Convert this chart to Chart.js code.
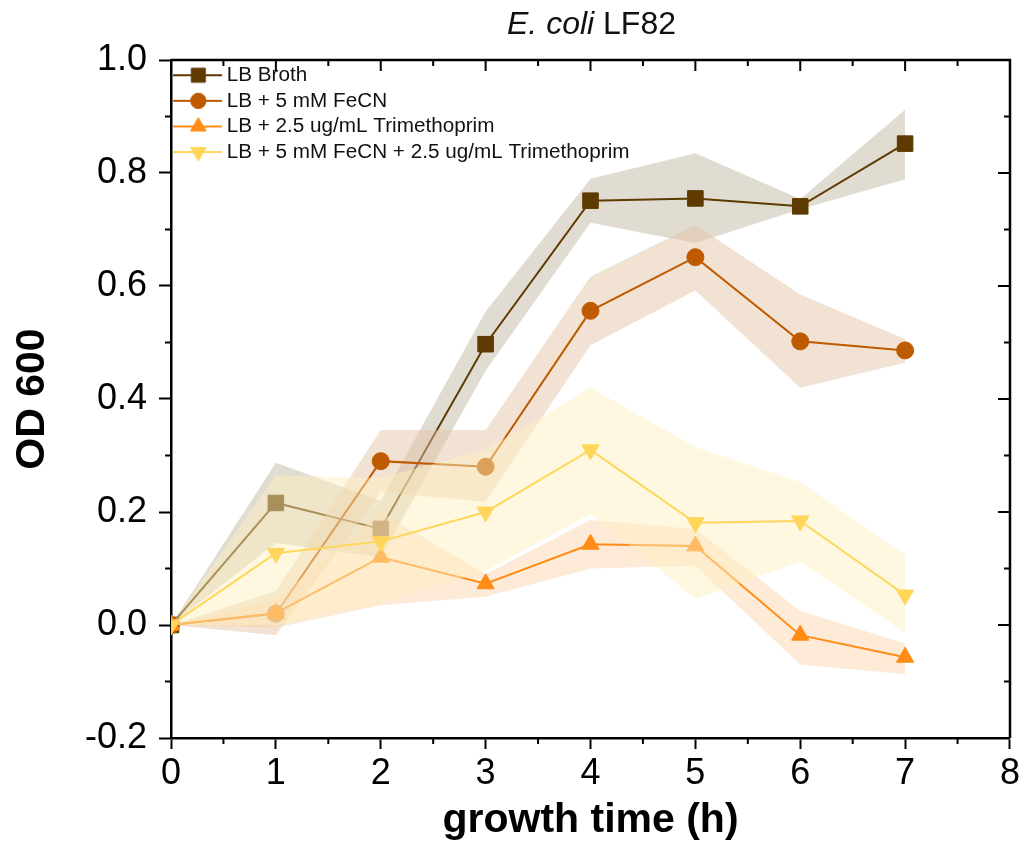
<!DOCTYPE html>
<html>
<head>
<meta charset="utf-8">
<script src="https://cdn.jsdelivr.net/npm/chart.js@4.4.1/dist/chart.umd.min.js"></script>
<style>
  body { margin: 0; background: #fff; }
  #wrap { position: relative; width: 1023px; height: 850px; }
  #title { position: absolute; left: 171px; top: 7px; width: 841px; text-align: center;
           font: 32px 'Liberation Sans', Arial, sans-serif; line-height: 32px; color: #111; }
  canvas { display: block; }
</style>
</head>
<body>
<div id="wrap">
  <canvas id="growthChart" width="1023" height="850"></canvas>
  <div id="title"><i>E. coli</i> LF82</div>
</div>
<script>
// growth time (h)
const times = [0, 1, 2, 3, 4, 5, 6, 7];

// OD 600, mean and band limits for each condition
const lbBroth   = [0, 0.216, 0.170, 0.497, 0.751, 0.755, 0.741, 0.852];
const lbBrothHi = [0, 0.287, 0.220, 0.555, 0.790, 0.835, 0.754, 0.912];
const lbBrothLo = [0, 0.145, 0.120, 0.450, 0.712, 0.676, 0.736, 0.789];

const feCN   = [0, 0.020, 0.290, 0.280, 0.556, 0.651, 0.502, 0.486];
const feCNHi = [0, 0.060, 0.345, 0.345, 0.617, 0.708, 0.585, 0.506];
const feCNLo = [0, -0.018, 0.235, 0.218, 0.495, 0.592, 0.420, 0.464];

const tmp   = [0, 0.021, 0.120, 0.073, 0.143, 0.140, -0.018, -0.057];
const tmpHi = [0, 0.045, 0.200, 0.090, 0.186, 0.170, 0.025, -0.033];
const tmpLo = [0, -0.005, 0.035, 0.050, 0.100, 0.105, -0.070, -0.087];

const feTmp   = [0, 0.127, 0.148, 0.200, 0.310, 0.181, 0.184, 0.053];
const feTmpHi = [0, 0.265, 0.260, 0.310, 0.420, 0.315, 0.253, 0.124];
const feTmpLo = [0, 0.000, 0.040, 0.095, 0.197, 0.046, 0.112, -0.014];

const seriesNames = ['LB Broth', 'LB + 5 mM FeCN', 'LB + 2.5 ug/mL Trimethoprim',
                     'LB + 5 mM FeCN + 2.5 ug/mL Trimethoprim'];

// axis ticks
const xTicks = [0, 1, 2, 3, 4, 5, 6, 7, 8];
const xMinorTicks = [0.5, 1.5, 2.5, 3.5, 4.5, 5.5, 6.5, 7.5];
const yTicks = [-0.2, 0, 0.2, 0.4, 0.6, 0.8, 1.0];
const yMinorTicks = [-0.1, 0.1, 0.3, 0.5, 0.7, 0.9];

const FONT = "'Liberation Sans', Arial, sans-serif";

const pts = (arr) => times.map((t, i) => ({ x: t, y: arr[i] }));

// style of each series (bands are light tints, half transparent)
const styles = [
  { color: 'rgb(94,58,0)',    band: 'rgba(191,181,159,0.47)', shape: 'rect',     r: 11,  rot: 0 },
  { color: 'rgb(190,90,0)',   band: 'rgba(227,193,164,0.47)', shape: 'circle',   r: 8.5, rot: 0 },
  { color: 'rgb(255,140,20)', band: 'rgba(251,210,170,0.47)', shape: 'triangle', r: 10,  rot: 0 },
  { color: 'rgb(255,214,90)', band: 'rgba(255,240,191,0.47)', shape: 'triangle', r: 10,  rot: 180 },
];
const means = [lbBroth, feCN, tmp, feTmp];
const highs = [lbBrothHi, feCNHi, tmpHi, feTmpHi];
const lows  = [lbBrothLo, feCNLo, tmpLo, feTmpLo];

// band of series k under its line, next series on top
const datasets = [];
means.forEach((m, k) => {
  const s = styles[k];
  const bandOrder = 8 - 2 * k;
  const hiIndex = datasets.length;
  datasets.push({ data: pts(highs[k]), borderWidth: 0, pointRadius: 0, fill: false, order: bandOrder });
  datasets.push({ data: pts(lows[k]), borderWidth: 0, pointRadius: 0, fill: hiIndex,
                  backgroundColor: s.band, order: bandOrder });
  datasets.push({
    label: seriesNames[k],
    data: pts(m),
    borderColor: s.color,
    backgroundColor: s.color,
    borderWidth: 2,
    pointStyle: s.shape,
    pointRadius: s.r,
    pointRotation: s.rot,
    pointBorderWidth: 1,
    pointBorderColor: s.color,
    pointBackgroundColor: s.color,
    fill: false,
    order: bandOrder - 1,
  });
});

// legend icon: short line with marker
function legendIcon(s) {
  const c = document.createElement('canvas');
  c.width = 56; c.height = 24;
  const g = c.getContext('2d');
  g.strokeStyle = s.color; g.fillStyle = s.color; g.lineWidth = 2;
  g.beginPath(); g.moveTo(4.9, 12); g.lineTo(53.9, 12); g.stroke();
  g.lineWidth = 1;
  Chart.helpers.drawPoint(g, { pointStyle: s.shape, radius: s.r * 0.9, rotation: s.rot, borderWidth: 1 }, 30.2, 12);
  return c;
}

// ticks that Chart.js does not draw: minor ticks and mirrored top/right axes
const framePlugin = {
  id: 'frame',
  afterDraw(chart) {
    const { ctx, chartArea: a, scales: { x, y } } = chart;
    ctx.save();
    ctx.strokeStyle = '#000';
    ctx.lineWidth = 2.5;
    ctx.beginPath();
    ctx.moveTo(a.left, a.top); ctx.lineTo(a.right, a.top); ctx.lineTo(a.right, a.bottom);
    ctx.stroke();
    ctx.lineWidth = 2;
    ctx.beginPath();
    xTicks.forEach(v => { const p = x.getPixelForValue(v); ctx.moveTo(p, a.top); ctx.lineTo(p, a.top + 11); });
    xMinorTicks.forEach(v => {
      const p = x.getPixelForValue(v);
      ctx.moveTo(p, a.top); ctx.lineTo(p, a.top + 6);
      ctx.moveTo(p, a.bottom); ctx.lineTo(p, a.bottom + 6);
    });
    yTicks.forEach(v => { const p = y.getPixelForValue(v); ctx.moveTo(a.right, p); ctx.lineTo(a.right - 12, p); });
    yMinorTicks.forEach(v => {
      const p = y.getPixelForValue(v);
      ctx.moveTo(a.right, p); ctx.lineTo(a.right - 6, p);
      ctx.moveTo(a.left, p); ctx.lineTo(a.left - 6, p);
    });
    ctx.stroke();
    ctx.restore();
  }
};

new Chart(document.getElementById('growthChart').getContext('2d'), {
  type: 'line',
  data: { datasets },
  plugins: [framePlugin],
  options: {
    responsive: false,
    animation: false,
    layout: { padding: { top: 60, right: 11, bottom: 0, left: 0 } },
    plugins: {
      tooltip: { enabled: false },
      legend: {
        position: 'chartArea',
        align: 'start',
        // empty title only pushes the legend down to the plot top
        title: { display: true, text: '', padding: { top: 50, bottom: 0 }, font: { size: 10, lineHeight: 1 } },
        labels: {
          usePointStyle: true,
          pointStyleWidth: 40.45,
          padding: 4.9,
          color: '#111',
          font: { family: FONT, size: 20.7 },
          generateLabels: () => seriesNames.map((name, k) => ({
            text: name,
            pointStyle: legendIcon(styles[k]),
            fontColor: '#111',
            hidden: false,
            datasetIndex: 2 + 3 * k,
            lineWidth: 0,
          })),
        },
      },
    },
    scales: {
      x: {
        type: 'linear',
        min: 0, max: 8,
        afterBuildTicks: (s) => { s.ticks = xTicks.map(v => ({ value: v })); },
        afterFit: (s) => { s.height = 112; },
        ticks: { color: '#000', padding: 3, font: { family: FONT, size: 36 } },
        grid: { drawOnChartArea: false, drawTicks: true, tickLength: 11, tickWidth: 2, tickColor: '#000' },
        border: { display: true, color: '#000', width: 2.5 },
        title: { display: true, text: 'growth time (h)', color: '#000',
                 padding: { top: 0, bottom: 5 }, font: { family: FONT, size: 41, weight: 'bold' } },
      },
      y: {
        type: 'linear',
        min: -0.2, max: 1.0,
        afterBuildTicks: (s) => { s.ticks = yTicks.map(v => ({ value: v })); },
        afterFit: (s) => { s.width = 171; },
        ticks: {
          color: '#000', padding: 12, font: { family: FONT, size: 36 },
          callback: (v) => (Math.abs(v) < 1e-9 ? 0 : v).toFixed(1),
        },
        grid: { drawOnChartArea: false, drawTicks: true, tickLength: 12, tickWidth: 2, tickColor: '#000' },
        border: { display: true, color: '#000', width: 2.5 },
        title: { display: true, text: 'OD 600', color: '#000',
                 padding: { top: 8, bottom: 0 }, font: { family: FONT, size: 41, weight: 'bold' } },
      },
    },
  },
});
</script>
</body>
</html>
